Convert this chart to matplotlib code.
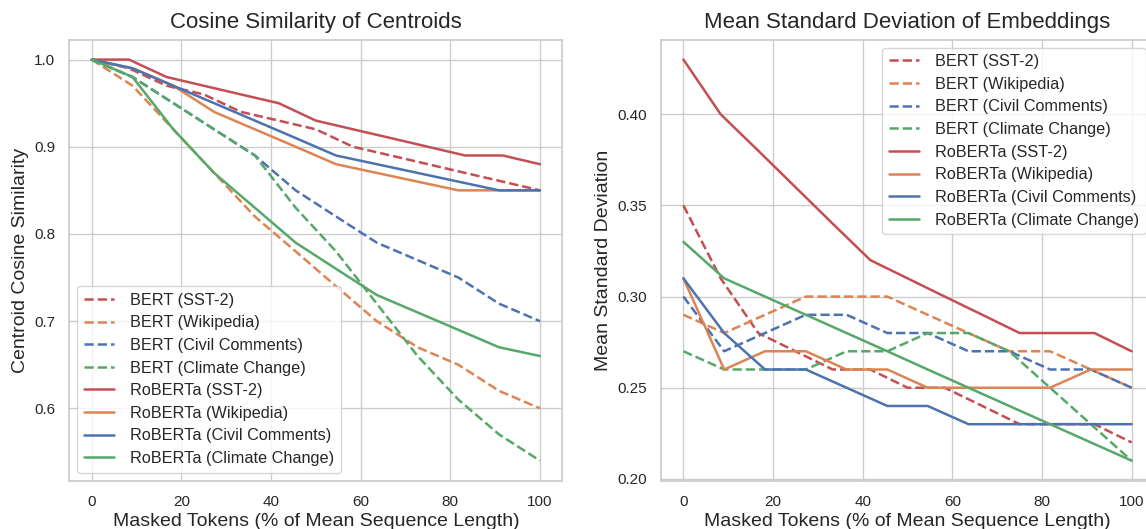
import matplotlib
matplotlib.use("Agg")
import matplotlib.pyplot as plt
import seaborn as sns

sns.set_theme(style="whitegrid")
plt.rcParams['font.family'] = ['Liberation Sans', 'DejaVu Sans']

# masked token positions (% of mean sequence length), one grid per dataset
x_sst2 = [0, 8.3, 16.7, 25, 33.3, 41.7, 50, 58.3, 66.7, 75, 83.3, 91.7, 100]
x_other = [0, 9.1, 18.2, 27.3, 36.4, 45.5, 54.5, 63.6, 72.7, 81.8, 90.9, 100]

datasets = ["SST-2", "Wikipedia", "Civil Comments", "Climate Change"]
colors = ["#C44E52", "#DD8452", "#4C72B0", "#55A868"]

# cosine similarity of centroids
cos_bert_sst2 = [1.00, 0.99, 0.97, 0.96, 0.94, 0.93, 0.92, 0.90, 0.89, 0.88, 0.87, 0.86, 0.85]
cos_bert_wiki = [1.00, 0.97, 0.92, 0.87, 0.82, 0.78, 0.74, 0.70, 0.67, 0.65, 0.62, 0.60]
cos_bert_civil = [1.00, 0.98, 0.95, 0.92, 0.89, 0.85, 0.82, 0.79, 0.77, 0.75, 0.72, 0.70]
cos_bert_climate = [1.00, 0.98, 0.95, 0.92, 0.89, 0.83, 0.78, 0.72, 0.66, 0.61, 0.57, 0.54]
cos_roberta_sst2 = [1.00, 1.00, 0.98, 0.97, 0.96, 0.95, 0.93, 0.92, 0.91, 0.90, 0.89, 0.89, 0.88]
cos_roberta_wiki = [1.00, 0.99, 0.97, 0.94, 0.92, 0.90, 0.88, 0.87, 0.86, 0.85, 0.85, 0.85]
cos_roberta_civil = [1.00, 0.99, 0.97, 0.95, 0.93, 0.91, 0.89, 0.88, 0.87, 0.86, 0.85, 0.85]
cos_roberta_climate = [1.00, 0.98, 0.92, 0.87, 0.83, 0.79, 0.76, 0.73, 0.71, 0.69, 0.67, 0.66]

# mean standard deviation of embeddings
std_bert_sst2 = [0.35, 0.31, 0.28, 0.27, 0.26, 0.26, 0.25, 0.25, 0.24, 0.23, 0.23, 0.23, 0.22]
std_bert_wiki = [0.29, 0.28, 0.29, 0.30, 0.30, 0.30, 0.29, 0.28, 0.27, 0.27, 0.26, 0.25]
std_bert_civil = [0.30, 0.27, 0.28, 0.29, 0.29, 0.28, 0.28, 0.27, 0.27, 0.26, 0.26, 0.25]
std_bert_climate = [0.27, 0.26, 0.26, 0.26, 0.27, 0.27, 0.28, 0.28, 0.27, 0.25, 0.23, 0.21]
std_roberta_sst2 = [0.43, 0.40, 0.38, 0.36, 0.34, 0.32, 0.31, 0.30, 0.29, 0.28, 0.28, 0.28, 0.27]
std_roberta_wiki = [0.31, 0.26, 0.27, 0.27, 0.26, 0.26, 0.25, 0.25, 0.25, 0.25, 0.26, 0.26]
std_roberta_civil = [0.31, 0.28, 0.26, 0.26, 0.25, 0.24, 0.24, 0.23, 0.23, 0.23, 0.23, 0.23]
std_roberta_climate = [0.33, 0.31, 0.30, 0.29, 0.28, 0.27, 0.26, 0.25, 0.24, 0.23, 0.22, 0.21]

xs = [x_sst2, x_other, x_other, x_other]
cos_bert = [cos_bert_sst2, cos_bert_wiki, cos_bert_civil, cos_bert_climate]
cos_roberta = [cos_roberta_sst2, cos_roberta_wiki, cos_roberta_civil, cos_roberta_climate]
std_bert = [std_bert_sst2, std_bert_wiki, std_bert_civil, std_bert_climate]
std_roberta = [std_roberta_sst2, std_roberta_wiki, std_roberta_civil, std_roberta_climate]

fig = plt.figure(figsize=(11.46, 5.29), dpi=100)
ax1 = fig.add_axes([0.0605, 0.0913, 0.4302, 0.834])
ax2 = fig.add_axes([0.5768, 0.0913, 0.4302, 0.834])

lw = 1.8
leg_kw = dict(fontsize=11.7, labelspacing=0.47, handlelength=1.85, handletextpad=1.0)
for ax, bert, roberta in [(ax1, cos_bert, cos_roberta), (ax2, std_bert, std_roberta)]:
    for x, y, c, d in zip(xs, bert, colors, datasets):
        ax.plot(x, y, '--', color=c, lw=lw, label=f"BERT ({d})")
    for x, y, c, d in zip(xs, roberta, colors, datasets):
        ax.plot(x, y, '-', color=c, lw=lw, label=f"RoBERTa ({d})")
    ax.tick_params(labelsize=11, pad=4)
    ax.set_xlabel("Masked Tokens (% of Mean Sequence Length)", fontsize=14, labelpad=3)

ax1.set_title("Cosine Similarity of Centroids", fontsize=16, pad=8)
ax1.set_ylabel("Centroid Cosine Similarity", fontsize=14)
ax1.legend(loc="lower left", **leg_kw)

ax2.set_title("Mean Standard Deviation of Embeddings", fontsize=16, pad=8)
ax2.set_ylabel("Mean Standard Deviation", fontsize=14)
ax2.set_xticks([0, 20, 40, 60, 80, 100])
ax2.legend(loc="upper right", **leg_kw)

fig.savefig("out.png", dpi=100)
